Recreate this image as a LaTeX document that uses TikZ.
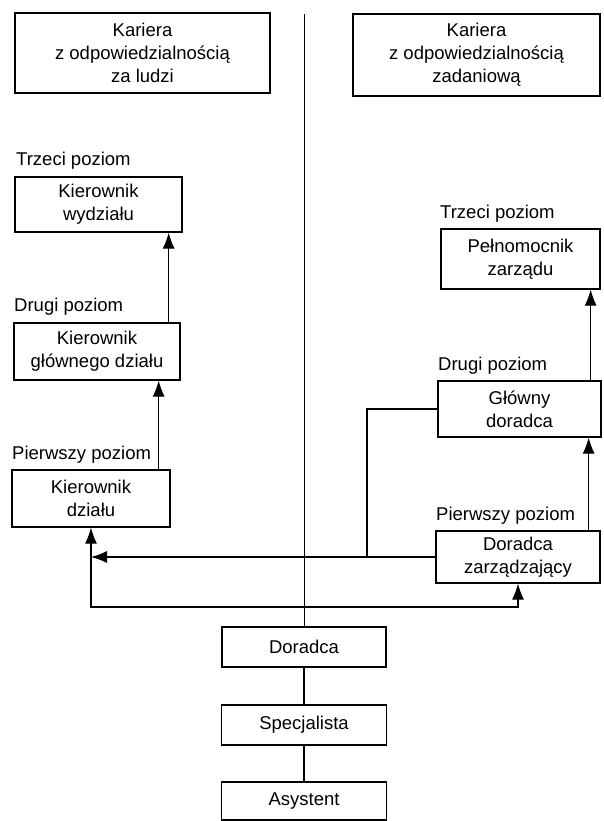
\documentclass[tikz,border=0pt]{standalone}
\usepackage{fontspec}
\setmainfont{Liberation Sans}
\usetikzlibrary{arrows.meta}
\begin{document}
\begin{tikzpicture}[x=1pt,y=-1pt,
  every node/.style={font=\fontsize{18.5}{23}\selectfont},
  box/.style={draw, line width=1.3pt, inner sep=0pt, align=center},
  lbl/.style={inner sep=0pt, anchor=base west},
  link/.style={line width=1.1pt},
  arr/.style={link, -{Latex[length=16pt,width=12pt]}}]

% page
\fill[white] (0,0) rectangle (604,821);
\useasboundingbox (0,0) rectangle (604,821);

% career headings
\node[box, minimum width=255pt, minimum height=80pt] (tl) at (142.5,53)
  {Kariera\\z odpowiedzialnością\\za ludzi};
\node[box, minimum width=247pt, minimum height=82pt] (tr) at (476.5,55)
  {Kariera\\z odpowiedzialnością\\zadaniową};

% management path
\node[lbl] (l3) at (16,166) {Trzeci poziom};
\node[box, minimum width=167pt, minimum height=55pt] (kw) at (98.5,204.5) {Kierownik\\wydziału};
\node[lbl] (l2) at (14,311) {Drugi poziom};
\node[box, minimum width=166pt, minimum height=57pt] (kgd) at (97,351.5) {Kierownik\\głównego działu};
\node[lbl] (l1) at (12,459) {Pierwszy poziom};
\node[box, minimum width=158pt, minimum height=57pt] (kd) at (91,498.5) {Kierownik\\działu};

% specialist path
\node[lbl] (r3) at (440,218) {Trzeci poziom};
\node[box, minimum width=159pt, minimum height=60pt] (pz) at (520.5,259) {Pełnomocnik\\zarządu};
\node[lbl] (r2) at (438,370) {Drugi poziom};
\node[box, minimum width=163pt, minimum height=56pt] (gd) at (519.5,409) {Główny\\doradca};
\node[lbl] (r1) at (436,520) {Pierwszy poziom};
\node[box, minimum width=164pt, minimum height=52pt] (dz) at (518,557) {Doradca\\zarządzający};

% entry positions
\node[box, minimum width=164pt, minimum height=40pt] (dor) at (304,647) {Doradca};
\node[box, minimum width=165pt, minimum height=40pt] (spec) at (304,725) {Specjalista};
\node[box, minimum width=165pt, minimum height=38pt] (asys) at (304,801) {Asystent};

% divider and branching points
\coordinate (divtop) at (304,14);
\coordinate (fork) at (304,607);
\coordinate (gdjoin) at (367,557);

\draw[line width=0.9pt] (divtop) -- (dor.north);
\draw[link] (asys.north) -- (spec.south);
\draw[link] (spec.north) -- (dor.south);

\draw[arr] (fork) -| (kd.south);
\draw[arr] (fork) -| (dz.south);
\draw[arr] (dz.west) -- (dz.west -| kd.south);
\draw[link] (gd.west) -| (gdjoin);

% promotions within each path
\draw[arr] ([xshift=-12pt]kd.north east) -- ([xshift=-12pt]kd.north east |- kgd.south);
\draw[arr] ([xshift=-12pt]kgd.north east) -- ([xshift=-12pt]kgd.north east |- kw.south);
\draw[arr] ([xshift=-12pt]dz.north east) -- ([xshift=-12pt]dz.north east |- gd.south);
\draw[arr] ([xshift=-11pt]gd.north east) -- ([xshift=-11pt]gd.north east |- pz.south);
\end{tikzpicture}
\end{document}
